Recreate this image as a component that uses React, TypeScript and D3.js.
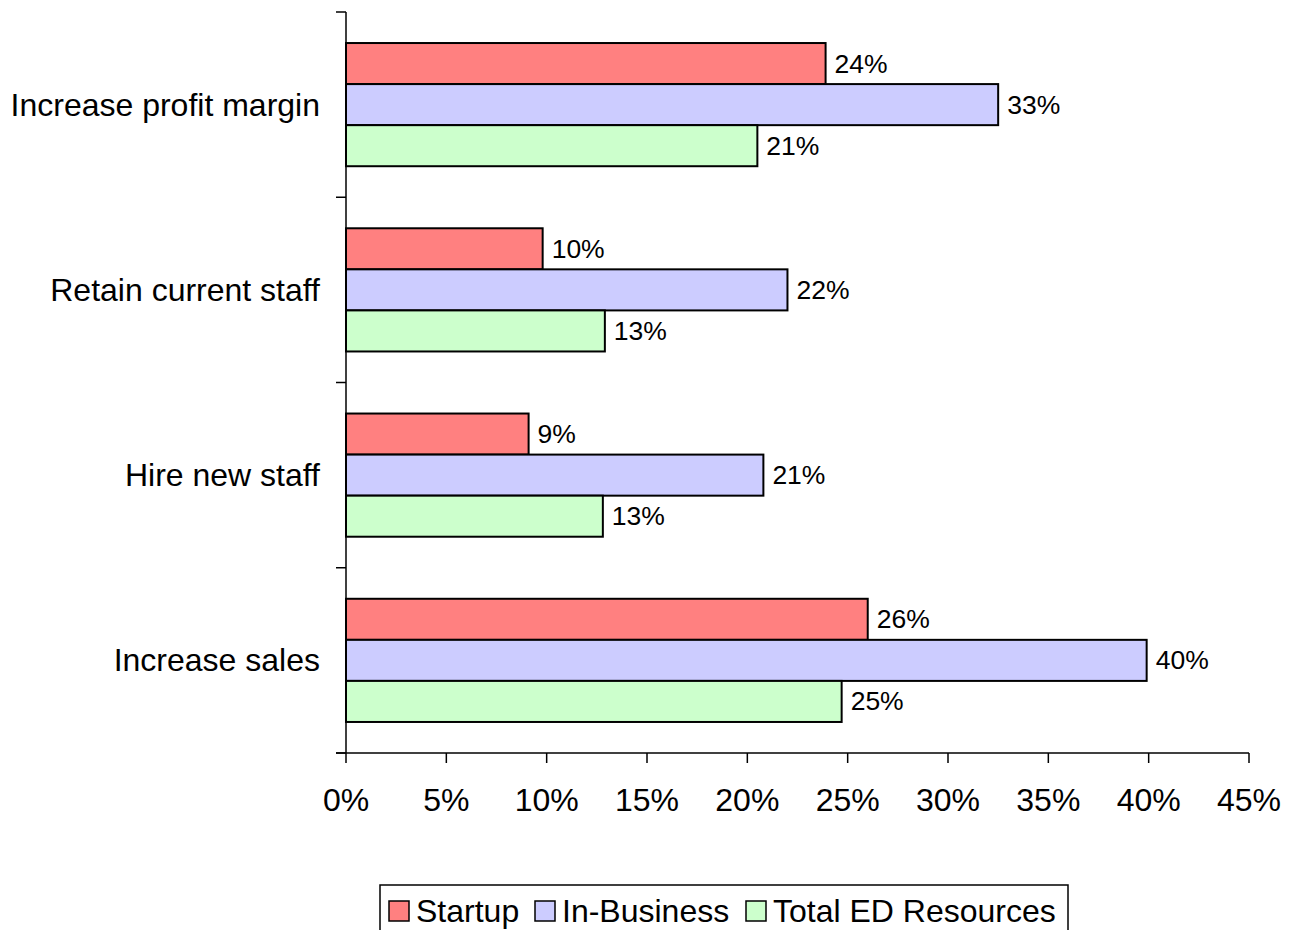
import React, { useEffect, useRef } from 'react';
import * as d3 from 'd3';

const categories = ['Increase profit margin', 'Retain current staff', 'Hire new staff', 'Increase sales'];
const seriesNames = ['Startup', 'In-Business', 'Total ED Resources'];
const startup = [23.9, 9.8, 9.1, 26.0];
const inBusiness = [32.5, 22.0, 20.8, 39.9];
const totalEd = [20.5, 12.9, 12.8, 24.7];
const xTicks = [0, 5, 10, 15, 20, 25, 30, 35, 40, 45];
const colors = ['#FF8080', '#CCCCFF', '#CCFFCC'];

const App: React.FC = () => {
  const svgRef = useRef<SVGSVGElement>(null);

  useEffect(() => {
    if (!svgRef.current) return;
    const svg = d3.select(svgRef.current);
    svg.selectAll('*').remove();

    const font = 'Arial, "Liberation Sans", sans-serif';
    const left = 346;
    const right = 1249;
    const top = 12;
    const bottom = 753;

    const x = d3.scaleLinear().domain([0, 45]).range([left, right]);
    const y = d3
      .scaleBand()
      .domain(categories)
      .range([top, bottom])
      .paddingInner(0.335)
      .paddingOuter(0.1675);
    const sub = d3.scaleBand().domain(seriesNames).range([0, y.bandwidth()]).padding(0);

    const series = [startup, inBusiness, totalEd];
    const step = y.step();

    // category axis
    const g = svg.append('g');
    g.append('line')
      .attr('x1', left).attr('x2', left)
      .attr('y1', top).attr('y2', bottom)
      .attr('stroke', '#000').attr('stroke-width', 1.5);
    d3.range(categories.length + 1).forEach((i) => {
      const yy = top + i * step;
      g.append('line')
        .attr('x1', left - 10).attr('x2', left)
        .attr('y1', yy).attr('y2', yy)
        .attr('stroke', '#000').attr('stroke-width', 1.5);
    });

    categories.forEach((c) => {
      g.append('text')
        .attr('x', 320)
        .attr('y', (y(c) || 0) + y.bandwidth() / 2)
        .attr('text-anchor', 'end')
        .attr('dominant-baseline', 'central')
        .attr('font-family', font)
        .attr('font-size', 32)
        .text(c);
    });

    // value axis
    g.append('line')
      .attr('x1', left - 10).attr('x2', right)
      .attr('y1', bottom).attr('y2', bottom)
      .attr('stroke', '#000').attr('stroke-width', 1.5);
    xTicks.forEach((t) => {
      g.append('line')
        .attr('x1', x(t)).attr('x2', x(t))
        .attr('y1', bottom).attr('y2', bottom + 10)
        .attr('stroke', '#000').attr('stroke-width', 1.5);
      g.append('text')
        .attr('x', x(t))
        .attr('y', 800)
        .attr('text-anchor', 'middle')
        .attr('dominant-baseline', 'central')
        .attr('font-family', font)
        .attr('font-size', 32)
        .text(`${t}%`);
    });

    // bars
    categories.forEach((c, ci) => {
      seriesNames.forEach((s, si) => {
        const v = series[si][ci];
        const by = (y(c) || 0) + (sub(s) || 0);
        svg.append('rect')
          .attr('x', x(0))
          .attr('y', by)
          .attr('width', x(v) - x(0))
          .attr('height', sub.bandwidth())
          .attr('fill', colors[si])
          .attr('stroke', '#000')
          .attr('stroke-width', 2);
        svg.append('text')
          .attr('x', x(v) + 9)
          .attr('y', by + sub.bandwidth() / 2)
          .attr('dominant-baseline', 'central')
          .attr('font-family', font)
          .attr('font-size', 26.5)
          .text(`${Math.round(v)}%`);
      });
    });

    // legend
    const lg = svg.append('g');
    lg.append('rect')
      .attr('x', 380).attr('y', 885)
      .attr('width', 688).attr('height', 52)
      .attr('fill', '#fff').attr('stroke', '#000').attr('stroke-width', 1.5);
    const itemX = [389, 535, 746];
    seriesNames.forEach((s, i) => {
      lg.append('rect')
        .attr('x', itemX[i]).attr('y', 901)
        .attr('width', 20).attr('height', 20)
        .attr('fill', colors[i]).attr('stroke', '#000').attr('stroke-width', 1.5);
      lg.append('text')
        .attr('x', itemX[i] + 27)
        .attr('y', 911)
        .attr('dominant-baseline', 'central')
        .attr('font-family', font)
        .attr('font-size', 32)
        .text(s);
    });
  }, []);

  return (
    <svg
      ref={svgRef}
      width={1297}
      height={930}
      style={{ position: 'absolute', left: 0, top: 0, background: '#fff' }}
    />
  );
};

export default App;
